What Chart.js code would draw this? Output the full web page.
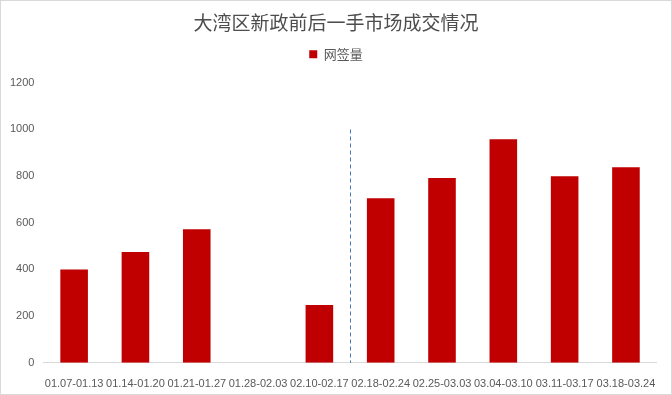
<!DOCTYPE html>
<html>
<head>
<meta charset="utf-8">
<script src="https://cdn.jsdelivr.net/npm/chart.js@4/dist/chart.umd.min.js"></script>
<style>
    html, body { margin: 0; padding: 0; background: #fff; }
    #wrap { width: 670px; height: 393px; border: 1px solid #d9d9d9; }
</style>
</head>
<body>
<div id="wrap"><canvas id="chart" width="670" height="393"></canvas></div>
<script>
// Weekly signed contracts (网签量)
const categories = ['01.07-01.13', '01.14-01.20', '01.21-01.27', '01.28-02.03', '02.10-02.17',
    '02.18-02.24', '02.25-03.03', '03.04-03.10', '03.11-03.17', '03.18-03.24'];
const signedValues = [400, 475, 572, 0, 248, 705, 792, 958, 800, 838];
const yTicks = [0, 200, 400, 600, 800, 1000, 1200];

const tickFont = { family: "'Liberation Sans', sans-serif", size: 11 };
const grey = '#595959';

// dashed separator between the 5th and 6th week
const policyLine = {
    id: 'policyLine',
    afterDatasetsDraw(chart) {
        const { ctx, scales: { x, y } } = chart;
        const px = (x.getPixelForValue(4) + x.getPixelForValue(5)) / 2;
        ctx.save();
        ctx.strokeStyle = '#4a7ab5';
        ctx.lineWidth = 1;
        ctx.setLineDash([4, 3]);
        ctx.beginPath();
        ctx.moveTo(Math.round(px) + 0.5, y.getPixelForValue(1000));
        ctx.lineTo(Math.round(px) + 0.5, y.getPixelForValue(0));
        ctx.stroke();
        ctx.restore();
    }
};

// a bit more room under the legend, and centre title/legend on the full width
const headerLayout = {
    id: 'headerLayout',
    beforeInit(chart) {
        const fit = chart.legend.fit;
        chart.legend.fit = function () {
            fit.bind(chart.legend)();
            this.height += 12;
        };
    },
    afterLayout(chart) {
        [chart.titleBlock, chart.legend].forEach(b => {
            b.left = 0;
            b.right = chart.width;
            b.width = chart.width;
        });
    }
};

new Chart(document.getElementById('chart'), {
    type: 'bar',
    data: {
        labels: categories,
        datasets: [{
            label: '网签量',
            data: signedValues,
            backgroundColor: '#c00000',
            categoryPercentage: 1,
            barPercentage: 0.45
        }]
    },
    options: {
        responsive: false,
        animation: false,
        layout: { padding: { left: 0, right: 14, top: 2, bottom: -12 } },
        plugins: {
            title: {
                display: true,
                text: '大湾区新政前后一手市场成交情况',
                color: '#4d4d4d',
                font: { family: "'Noto Sans CJK SC', sans-serif", size: 19, weight: 'normal' },
                padding: { top: 8, bottom: 2 }
            },
            legend: {
                labels: {
                    color: grey,
                    boxWidth: 8,
                    boxHeight: 8,
                    padding: 12,
                    font: { family: "'Noto Sans CJK SC', sans-serif", size: 13 }
                }
            },
            tooltip: { enabled: false }
        },
        scales: {
            x: {
                grid: { display: false, drawTicks: false },
                border: { color: '#d9d9d9' },
                ticks: { color: grey, font: tickFont, maxRotation: 0, autoSkip: false, padding: 15 }
            },
            y: {
                min: 0,
                max: 1200,
                afterBuildTicks(axis) { axis.ticks = yTicks.map(v => ({ value: v })); },
                grid: { display: false, drawTicks: false },
                border: { display: false },
                ticks: { color: grey, font: tickFont, padding: 9, callback: v => String(v) }
            }
        }
    },
    plugins: [policyLine, headerLayout]
});
</script>
</body>
</html>
